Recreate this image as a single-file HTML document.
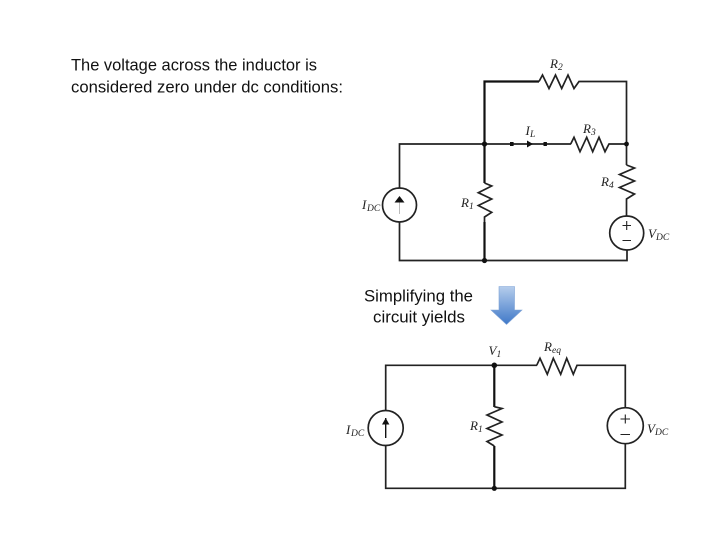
<!DOCTYPE html>
<html>
<head>
<meta charset="utf-8">
<style>
html,body{margin:0;padding:0;background:#fff;width:720px;height:540px;overflow:hidden}
svg{display:block}
.t{font-family:"Liberation Sans",sans-serif;font-size:16.5px;fill:#111}
.m{font-family:"Liberation Serif",serif;font-style:italic;font-size:13px;fill:#222}
.s{font-family:"Liberation Serif",serif;font-style:italic;font-size:9.5px;fill:#222}
.w{fill:none;stroke:#222;stroke-width:1.7;stroke-linejoin:miter}
.b{fill:none;stroke:#111;stroke-width:2.2}
.c{filter:blur(0.3px)}
</style>
</head>
<body>
<svg width="720" height="540" viewBox="0 0 720 540" xmlns="http://www.w3.org/2000/svg">
<defs>
<linearGradient id="g" x1="0" y1="0" x2="0" y2="1">
<stop offset="0" stop-color="#b5cdec"/>
<stop offset="1" stop-color="#3f78c8"/>
</linearGradient>
</defs>
<rect width="720" height="540" fill="#fff"/>

<text class="t" x="71" y="70.5" textLength="246" lengthAdjust="spacingAndGlyphs">The voltage across the inductor is</text>
<text class="t" x="71" y="92.5" textLength="272" lengthAdjust="spacingAndGlyphs">considered zero under dc conditions:</text>
<text class="t" x="364" y="301.5" textLength="109" lengthAdjust="spacingAndGlyphs">Simplifying the</text>
<text class="t" x="373" y="322.5" textLength="92" lengthAdjust="spacingAndGlyphs">circuit yields</text>

<!-- block arrow -->
<polygon points="499,286.5 514.5,286.5 514.5,310 522,310 506.5,324.5 491,310 499,310" fill="url(#g)" stroke="#7fa3d6" stroke-width="0.6"/>

<g class="c">
<!-- top circuit -->
<path class="w" d="M399.5,188 V144 H484.5"/>
<path class="w" d="M399.5,222 V260.5 H484.5"/>
<path class="b" d="M484.5,144 V81.5 H539"/>
<path class="b" d="M484.5,144 V183"/>
<path class="b" d="M484.5,222 V260.5"/>
<path class="w" d="M484.5,260.5 H627 V250"/>
<path class="w" d="M484.5,144 H571"/>
<polyline class="w" points="539,81.5 542.5,75 549,88.5 555.5,75 561.7,88.5 568,75 574,88.5 579,81.5 626.5,81.5 626.5,165"/>
<polyline class="w" points="570.7,144 574,137.3 580,151.7 586.7,137.3 592.7,151.7 599,137.3 605,151.7 609,144 626.5,144"/>
<polyline class="w" points="626.5,165 634.5,168 619.5,174.5 634.5,181 619.5,187.5 634.5,194 626.5,199 626.5,216"/>
<polyline class="w" points="484.5,183 491.7,186 478.3,192.7 491.7,199 478.3,205.5 491.7,212.3 484.5,217 484.5,222"/>
<circle class="w" cx="399.5" cy="205" r="17" style="fill:#fff"/>
<path d="M399.5,202 V214" stroke="#bbb" stroke-width="1"/>
<polygon points="399.5,196 394.5,202.5 404.5,202.5" fill="#111"/>
<circle class="w" cx="626.7" cy="233" r="17" style="fill:#fff"/>
<path d="M622.5,225.5 H631 M626.7,221 V230 M622.5,240.5 H631" stroke="#222" stroke-width="1.1" fill="none"/>
<circle cx="484.5" cy="144" r="2.6" fill="#111"/>
<circle cx="626.5" cy="144" r="2.4" fill="#111"/>
<circle cx="484.5" cy="260.5" r="2.6" fill="#111"/>
<rect x="510" y="142" width="3.6" height="4" fill="#111"/>
<rect x="543.5" y="142" width="3.4" height="4" fill="#111"/>
<polygon points="533,144 527,140.5 527,147.5" fill="#111"/>

<text class="m" x="550" y="68">R</text><text class="s" x="558" y="70">2</text>
<text class="m" x="525.5" y="135">I</text><text class="s" x="530" y="137">L</text>
<text class="m" x="583" y="133">R</text><text class="s" x="591" y="135">3</text>
<text class="m" x="601" y="186">R</text><text class="s" x="609" y="188">4</text>
<text class="m" x="461" y="207">R</text><text class="s" x="469" y="209">1</text>
<text class="m" x="362" y="209">I</text><text class="s" x="367" y="211">DC</text>
<text class="m" x="648" y="238">V</text><text class="s" x="656" y="240">DC</text>

<!-- bottom circuit -->
<path class="w" d="M385.7,411 V365.3 H537"/>
<path class="w" d="M385.7,445 V488.3 H625.3 V443"/>
<path class="b" d="M494.3,365.3 V407"/>
<path class="b" d="M494.3,446 V488.3"/>
<polyline class="w" points="536.7,365.3 540,358.3 547.3,374.3 553.3,358.3 560.7,374.3 566.7,358.3 573.3,374.3 577,365.3 625.3,365.3 625.3,408"/>
<polyline class="w" points="494.3,406.7 502,408.5 487,415 502,422 487,428.5 502,435 487,441.5 494.3,446"/>
<circle class="w" cx="385.7" cy="428" r="17.5" style="fill:#fff"/>
<path d="M385.7,418 V438" stroke="#111" stroke-width="1.4"/>
<polygon points="385.7,418 382,424.5 389.4,424.5" fill="#111"/>
<circle class="w" cx="625.3" cy="425.7" r="18" style="fill:#fff"/>
<path d="M620.5,419 H630 M625.3,414.5 V423.5 M620.5,434.5 H630" stroke="#222" stroke-width="1.1" fill="none"/>
<circle cx="494.3" cy="365.3" r="2.8" fill="#111"/>
<circle cx="494.3" cy="488.3" r="2.6" fill="#111"/>

<text class="m" x="488.5" y="355">V</text><text class="s" x="496.5" y="357">1</text>
<text class="m" x="544" y="351">R</text><text class="s" x="552" y="353">eq</text>
<text class="m" x="470" y="430">R</text><text class="s" x="478" y="432">1</text>
<text class="m" x="346" y="434">I</text><text class="s" x="351" y="436">DC</text>
<text class="m" x="647" y="433">V</text><text class="s" x="655" y="435">DC</text>
</g>
</svg>
</body>
</html>
